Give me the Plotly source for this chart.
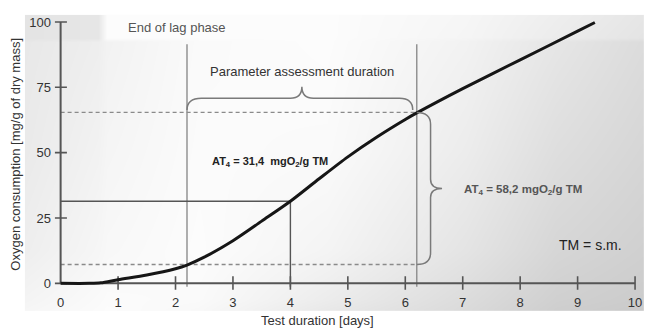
import plotly.graph_objects as go

# ---------------- data ----------------
DAYS = [0, 0.5, 0.7, 1.0, 1.5, 2.0, 2.2, 2.5, 3.0, 3.5, 4.0, 4.5, 5.0, 5.5, 6.0, 6.2, 7.0, 8.0, 9.0, 9.3]
OXYGEN = [0, 0, 0.2, 1.4, 3.2, 5.6, 7.0, 10.0, 16.3, 23.8, 31.4, 40.0, 48.4, 55.9, 62.7, 65.2, 74.5, 85.5, 96.5, 99.8]
X_TICKS = [0, 1, 2, 3, 4, 5, 6, 7, 8, 9, 10]
Y_TICKS = [0, 25, 50, 75, 100]
LAG_END = 2.2
ASSESS_END = 6.2
AT4_DAY = 4.0
AT4_VALUE = 31.4
BASE_LEVEL = 7.2
TOP_LEVEL = 65.4
GUIDE_TOP = 91.5

# decorative background shading (grey levels)
BG_X = [25, 98, 108, 200, 330, 470, 560, 648]
BG_Y = [10, 33, 38, 150, 250, 300, 312]
BG_Z = [
    [228, 230, 252, 252, 252, 246, 238, 230],
    [228, 230, 252, 252, 252, 245, 236, 228],
    [232, 238, 242, 250, 252, 242, 230, 220],
    [234, 242, 245, 251, 250, 236, 222, 214],
    [238, 246, 248, 252, 244, 228, 214, 208],
    [244, 250, 251, 250, 236, 220, 208, 204],
    [246, 251, 252, 248, 232, 218, 206, 202],
]

# ---------------- layout geometry ----------------
W, H = 648, 329
X0_PX, DAY_PX = 61, 57.8
Y0_PX, UNIT_PX = 283.5, 2.662
XR = [-0.1, 10.05]
YR = [-2.5, 101]
FONT = "Liberation Sans, Arial, sans-serif"

fig = go.Figure()

# background (paper-pixel axes)
fig.add_trace(go.Heatmap(
    x=BG_X, y=BG_Y, z=BG_Z, zmin=0, zmax=255, zsmooth="best",
    colorscale=[[0, "rgb(0,0,0)"], [1, "rgb(255,255,255)"]],
    showscale=False, hoverinfo="skip", xaxis="x", yaxis="y"))

def line(xs, ys, color, width, dash="solid", shape="linear"):
    fig.add_trace(go.Scatter(x=xs, y=ys, mode="lines", xaxis="x2", yaxis="y2",
                             line=dict(color=color, width=width, dash=dash, shape=shape,
                                       smoothing=0.8 if shape == "spline" else None),
                             hoverinfo="skip", showlegend=False))

# guide lines
line([0, ASSESS_END], [TOP_LEVEL, TOP_LEVEL], "#8a8a8a", 1.4, "4px,3px")
line([0, ASSESS_END], [BASE_LEVEL, BASE_LEVEL], "#8a8a8a", 1.4, "4px,3px")
line([LAG_END, LAG_END], [-1.3, GUIDE_TOP], "#8c8c8c", 1.4)
line([ASSESS_END, ASSESS_END], [-1.3, GUIDE_TOP], "#8c8c8c", 1.4)
line([0, AT4_DAY], [AT4_VALUE, AT4_VALUE], "#555555", 1.4)
line([AT4_DAY, AT4_DAY], [-1.3, AT4_VALUE], "#555555", 1.4)

# axes lines
line([0, 10], [0, 0], "#555555", 2)
line([0, 0], [0, 100], "#555555", 2)

# crossing tick marks
fig.add_trace(go.Scatter(x=X_TICKS[1:], y=[0] * (len(X_TICKS) - 1), mode="markers",
                         xaxis="x2", yaxis="y2", hoverinfo="skip", showlegend=False,
                         marker=dict(symbol="line-ns", size=10,
                                     line=dict(color="#555555", width=1.6))))
fig.add_trace(go.Scatter(x=[0] * len(Y_TICKS), y=Y_TICKS, mode="markers",
                         xaxis="x2", yaxis="y2", hoverinfo="skip", showlegend=False,
                         marker=dict(symbol="line-ew", size=9,
                                     line=dict(color="#555555", width=1.6))))

# main curve
line(DAYS, OXYGEN, "#161616", 3, shape="spline")

# braces
mid = (LAG_END + ASSESS_END) / 2
yb, yh, yt = TOP_LEVEL + 0.9, TOP_LEVEL + 5.4, TOP_LEVEL + 9.8
hbrace = (f"M {LAG_END},{yb} Q {LAG_END},{yh} {LAG_END+0.25},{yh} "
          f"L {mid-0.2},{yh} Q {mid},{yh} {mid},{yt} "
          f"Q {mid},{yh} {mid+0.2},{yh} "
          f"L {ASSESS_END-0.3},{yh} Q {ASSESS_END-0.07},{yh} {ASSESS_END-0.07},{yb}")
xv, xt = ASSESS_END + 0.24, ASSESS_END + 0.44
vm = (TOP_LEVEL + BASE_LEVEL) / 2
vbrace = (f"M {ASSESS_END},{TOP_LEVEL} Q {xv},{TOP_LEVEL} {xv},{TOP_LEVEL-4.5} "
          f"L {xv},{vm+3.5} Q {xv},{vm} {xt},{vm} Q {xv},{vm} {xv},{vm-3.5} "
          f"L {xv},{BASE_LEVEL+4.5} Q {xv},{BASE_LEVEL} {ASSESS_END},{BASE_LEVEL}")
for p in (hbrace, vbrace):
    fig.add_shape(type="path", path=p, xref="x2", yref="y2",
                  line=dict(color="#7a7a7a", width=1.5))

ann = []
def note(**kw):
    kw.setdefault("showarrow", False)
    kw.setdefault("xanchor", "center")
    kw.setdefault("yanchor", "middle")
    ann.append(kw)

note(x=mid, y=81, xref="x2", yref="y2", text="Parameter assessment duration",
     font=dict(size=13, color="#333333", family=FONT))
note(x=3.65, y=46.4, xref="x2", yref="y2",
     text="<b>AT<sub>4</sub> = 31,4 &nbsp;mgO<sub>2</sub>/g TM</b>",
     font=dict(size=11, color="#222222", family=FONT))
note(x=8.05, y=35.8, xref="x2", yref="y2",
     text="<b>AT<sub>4</sub> = 58,2 mgO<sub>2</sub>/g TM</b>",
     font=dict(size=11.5, color="#555555", family=FONT))
note(x=9.22, y=14.5, xref="x2", yref="y2", text="TM = s.m.",
     font=dict(size=14, color="#222222", family=FONT))
note(x=127 / W, y=1 - 23 / H, xref="paper", yref="paper", xanchor="left",
     text="End of lag phase", font=dict(size=13, color="#555555", family=FONT))
note(x=319 / W, y=1 - 321.5 / H, xref="paper", yref="paper",
     text="Test duration [days]", font=dict(size=13, color="#333333", family=FONT))
note(x=16 / W, y=1 - 151.5 / H, xref="paper", yref="paper", textangle=-90,
     text="Oxygen consumption [mg/g of dry mass]",
     font=dict(size=13, color="#333333", family=FONT))

x2dom = [(X0_PX + XR[0] * DAY_PX) / W, (X0_PX + XR[1] * DAY_PX) / W]
y2dom = [1 - (Y0_PX - YR[0] * UNIT_PX) / H, 1 - (Y0_PX - YR[1] * UNIT_PX) / H]

fig.update_layout(
    width=W, height=H, margin=dict(l=0, r=0, t=0, b=0),
    paper_bgcolor="white", plot_bgcolor="rgba(0,0,0,0)",
    showlegend=False, annotations=ann,
    xaxis=dict(domain=[BG_X[0] / W, 1], range=[BG_X[0], W], visible=False, fixedrange=True),
    yaxis=dict(domain=[1 - BG_Y[-1] / H, 1 - BG_Y[0] / H], range=[BG_Y[-1], BG_Y[0]],
               visible=False, fixedrange=True),
    xaxis2=dict(domain=x2dom, range=XR, anchor="y2", tickvals=X_TICKS,
                showgrid=False, zeroline=False, showline=False, ticks="",
                ticklabelstandoff=3,
                tickfont=dict(size=13, color="#333333", family=FONT)),
    yaxis2=dict(domain=y2dom, range=YR, anchor="x2", tickvals=Y_TICKS,
                showgrid=False, zeroline=False, showline=False, ticks="",
                ticklabelstandoff=3,
                tickfont=dict(size=13, color="#333333", family=FONT)),
)

fig.write_html("out.html", config={"displayModeBar": False},
               post_script="document.body.style.margin='0';document.body.style.overflow='hidden';")
